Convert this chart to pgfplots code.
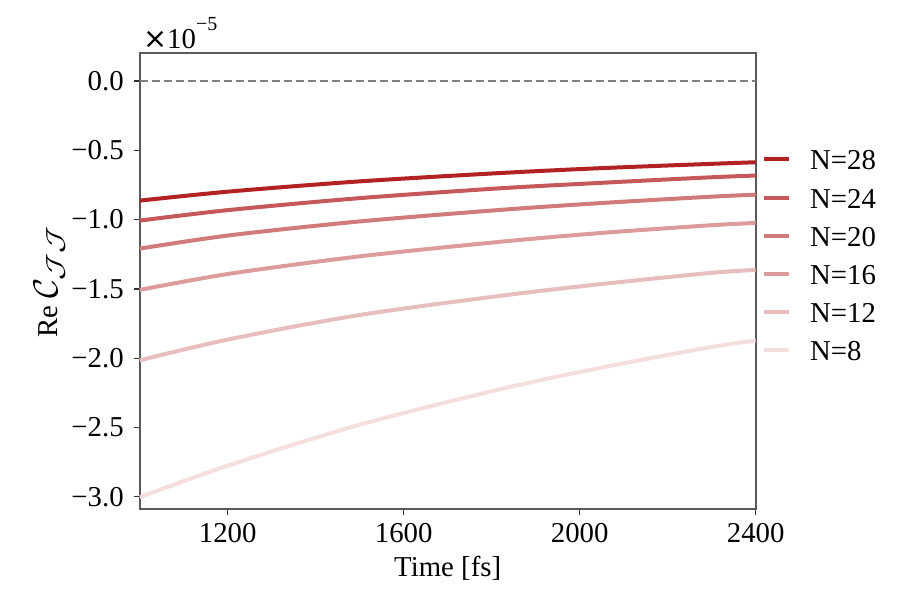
\documentclass[border=0pt]{standalone}
\usepackage{fontspec}
\setmainfont{Liberation Serif}
\newfontfamily\djv{DejaVu Sans}
\usepackage{pgfplots}
\pgfplotsset{compat=1.18}
\definecolor{firebrick}{RGB}{178,34,34}
\pgfplotstableread{
t     n28    n24    n20    n16    n12    n8
1000  -0.863 -1.007 -1.209 -1.507 -2.015 -3.003
1205  -0.797 -0.930 -1.113 -1.390 -1.862 -2.770
1500  -0.724 -0.845 -1.013 -1.265 -1.688 -2.480
1819  -0.664 -0.774 -0.930 -1.160 -1.550 -2.224
2046  -0.629 -0.735 -0.881 -1.097 -1.466 -2.070
2296  -0.598 -0.695 -0.835 -1.041 -1.385 -1.921
2400  -0.586 -0.682 -0.820 -1.024 -1.363 -1.873
}\data
\begin{document}
\fontsize{14.4}{17}\selectfont
\begin{tikzpicture}
\begin{axis}[
  name=ax,
  scale only axis,
  width=308pt, height=228pt,
  xmin=1000, xmax=2400, ymin=-3.09, ymax=0.2,
  xtick={1200,1600,2000,2400},
  ytick={-3,-2.5,-2,-1.5,-1,-0.5,0},
  yticklabels={−3.0,−2.5,−2.0,−1.5,−1.0,−0.5,0.0},
  scaled y ticks=false, scaled x ticks=false,
  /pgf/number format/assume math mode=true,
  /pgf/number format/set thousands separator={},
  tick align=outside, major tick length=3pt,
  xtick pos=bottom, ytick pos=left,
  axis line style={black!65, line width=0.9pt},
  tick style={black!80, line width=0.6pt},
  ticklabel style={font=\fontsize{14.4}{17}\selectfont},
  xticklabel style={yshift=1pt},
  label style={font=\fontsize{14.4}{17}\selectfont},
  xlabel={Time [fs]},
  xlabel style={yshift=3pt},
  ylabel={Re \scalebox{1.2}{$\mathcal{C}_{\scalebox{1.3}[1]{$\scriptstyle\mathcal{J}\mathcal{J}$}}$}},
  ylabel shift=-6.5pt,
  legend style={draw=none, fill=none, at={(1.0,0.558)}, anchor=west,
    font=\fontsize{14.4}{17}\selectfont, row sep=4.6pt,
    nodes={inner sep=2pt, text height=10.5pt, text depth=0pt},
    /tikz/every odd column/.append style={column sep=7.5pt}},
  legend cell align=left,
  legend image code/.code={\draw[#1] (0pt,0pt) -- (12.5pt,0pt);},
]
\addplot[gray, line width=1pt, dash pattern=on 4.3pt off 1.7pt, forget plot] coordinates {(1000,0) (2400,0)};
\addplot[firebrick, line width=2pt, smooth] table[x=t, y=n28] {\data};
\addlegendentry{N=28}
\addplot[firebrick!75!white, line width=2pt, smooth] table[x=t, y=n24] {\data};
\addlegendentry{N=24}
\addplot[firebrick!60!white, line width=2pt, smooth] table[x=t, y=n20] {\data};
\addlegendentry{N=20}
\addplot[firebrick!45!white, line width=2pt, smooth] table[x=t, y=n16] {\data};
\addlegendentry{N=16}
\addplot[firebrick!30!white, line width=2pt, smooth] table[x=t, y=n12] {\data};
\addlegendentry{N=12}
\addplot[firebrick!15!white, line width=2pt, smooth] table[x=t, y=n8] {\data};
\addlegendentry{N=8}
\end{axis}
\node[anchor=base west, inner sep=0pt, font=\fontsize{14.4}{17}\selectfont] at ([xshift=1.5pt,yshift=2.5pt]ax.north west)
  {{\djv ×}10\raisebox{9pt}{\fontsize{10}{12}\selectfont −5}};
\path (ax.south west) ++(-69.85pt,-45.35pt) rectangle ++(450pt,300pt);
\end{tikzpicture}
\end{document}
